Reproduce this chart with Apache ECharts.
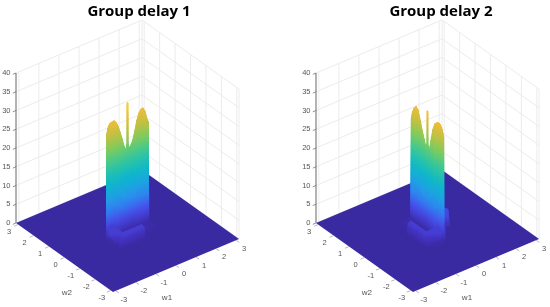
<!DOCTYPE html>
<html>
<head>
<meta charset="utf-8">
<style>html,body{margin:0;padding:0;background:#fff}#c{width:550px;height:307px;filter:blur(0.4px)}</style>
<script src="https://cdn.jsdelivr.net/npm/echarts@6/dist/echarts.min.js"></script>
</head>
<body>
<div id="c"></div>
<script>
// ---- ticks and labels ----
const titles = ['Group delay 1', 'Group delay 2'];
const wTicks = [-3, -2, -1, 0, 1, 2, 3];
const zTicks = [0, 5, 10, 15, 20, 25, 30, 35, 40];
const wLimit = 3.1416;

// ---- surface 1: rows run along w2, columns along w1 ----
const s1W1 = [-1.05,-1.03,-.97,-.92,-.87,-.77,-.67,-.58,-.47,-.38,-.27,-.18,-.1,-.02,-.01,.01,.02,.07,.18,.2,.27,.38,.47,.58,.67,.77,.87,.97,1.03,1.05];
const s1W2 = [-.86,-.84,-.69,-.65,-.04,0,.02,.14,.16];
const s1Flat   = [0,0,0,0,0,0,0,0,0,0,0,0,0,0,0,0,0,0,0,0,0,0,0,0,0,0,0,0,0,0];
const s1LedgeA = [0,0,0,3,3,3,3,3,3,3,3,3,3,3,3,3,3,3,3,0,0,0,0,0,0,0,0,0,0,0];
const s1LedgeB = [0,0,0,3.3,3.3,3.3,3.3,3.3,3.3,3.3,3.3,3.3,3.3,3.3,3.3,3.3,3.3,3.3,3.3,0,0,0,0,0,0,0,0,0,0,0];
const s1Trough = [0,0,0,3.3,3.3,3.3,.5,.5,.5,.5,.5,.5,.5,.5,.5,.5,.5,.5,.5,0,0,0,0,0,0,0,0,0,0,0];
const s1Foot   = [0,.8,.8,3.3,3.3,3.3,.8,.8,.8,.8,.8,.8,.8,.8,.8,.8,.8,.8,.8,.8,.8,.8,.8,.8,.8,.8,.8,.8,.8,0];
const s1Ridge  = [0,28.2,29.7,30.3,30.7,30.8,30.9,30.3,29,27.3,25.2,23.1,21.8,23.2,34.2,34.2,23.3,22,22.6,22.8,23.7,26.1,28.5,30.2,31,31.1,30,27.7,26.9,0];
const s1Behind = [0,0,0,3,3,3,0,0,0,0,0,0,0,0,0,0,0,0,0,0,0,0,0,0,0,0,0,0,0,0];
const s1Rows = [s1Flat, s1LedgeA, s1LedgeB, s1Trough, s1Foot, s1Ridge, s1Behind, s1Behind, s1Flat];

// ---- surface 2: rows run along w1, columns along w2 ----
const s2W2 = [-1.05,-1.04,-.94,-.88,-.81,-.73,-.66,-.48,-.36,-.23,-.12,-.02,-.01,.01,.02,.12,.23,.26,.36,.48,.62,.74,.87,.97,1.04,1.05];
const s2W1 = [-.77,-.75,-.63,-.6,-.04,0,.02,.18,.2,.92,.94];
const s2Flat   = [0,0,0,0,0,0,0,0,0,0,0,0,0,0,0,0,0,0,0,0,0,0,0,0,0,0];
const s2LedgeA = [0,0,0,3,3,3,3,3,3,3,3,3,3,3,3,3,3,3,0,0,0,0,0,0,0,0];
const s2LedgeB = [0,0,0,3.3,3.3,3.3,3.3,3.3,3.3,3.3,3.3,3.3,3.3,3.3,3.3,3.3,3.3,3.3,0,0,0,0,0,0,0,0];
const s2Trough = [0,0,0,3.3,3.3,3.3,.5,.5,.5,.5,.5,.5,.5,.5,.5,.5,.5,.5,0,0,0,0,0,0,0,0];
const s2Foot   = [0,.8,.8,3.3,3.3,3.3,.8,.8,.8,.8,.8,.8,.8,.8,.8,.8,.8,.8,.8,.8,.8,.8,.8,.8,.8,0];
const s2Ridge  = [0,28.4,29.9,30.4,30.9,30.9,30.9,30,28.2,24.9,21.9,23,32,32,23.2,22.3,23.9,24.5,25.9,28.2,30.5,31,30.2,28.9,27,0];
const s2Behind = [0,0,0,3,3,3,0,0,0,0,4,4,4,0,0,0,0,0,0,0,0,0,0,0,0,0];
const s2Slab   = [0,0,0,0,0,0,0,0,0,0,4,4,4,0,0,0,0,0,0,0,0,0,0,0,0,0];
const s2Rows = [s2Flat, s2LedgeA, s2LedgeB, s2Trough, s2Foot, s2Ridge, s2Behind, s2Behind, s2Slab, s2Slab, s2Flat];

// ---- colour map ----
const parula = ['#3a2aa2','#4433c4','#4650ee','#3378f2','#2796eb','#1aa6de','#08b5d0','#1abeb8','#31c69f','#55ca7f','#81cc59','#adc548','#d7bb3c','#eebd38','#fec338','#f7dc28','#f9fb15'];
const zColorMax = 38;

// ---- view geometry (projection plane) ----
const viewW1 = [126, 53], viewW2 = [-97, 69], viewZ = 3.75;
function project(w1, w2, z) {
  const a = (w1 + wLimit) / (2 * wLimit), b = (w2 + wLimit) / (2 * wLimit);
  return [a * viewW1[0] + b * viewW2[0], a * viewW1[1] + b * viewW2[1] + z * viewZ];
}
function hex(c) { return [1, 3, 5].map(i => parseInt(c.substr(i, 2), 16)); }
function colorAt(z) {
  const t = Math.max(0, Math.min(1, z / zColorMax)) * (parula.length - 1);
  const i = Math.min(parula.length - 2, Math.floor(t)), f = t - i;
  const p = hex(parula[i]), q = hex(parula[i + 1]);
  return 'rgb(' + p.map((v, k) => Math.round(v + (q[k] - v) * f)).join(',') + ')';
}

// one floor sheet out to the axis limits, then the raised cells back to front
function buildSurface(rowAxis, colAxis, rows, rowsAreW1) {
  const cells = [[[-wLimit, -wLimit, 0], [wLimit, -wLimit, 0], [wLimit, wLimit, 0], [-wLimit, wLimit, 0]]];
  for (let i = rowAxis.length - 2; i >= 0; i--) {
    for (let j = colAxis.length - 2; j >= 0; j--) {
      const corners = [[i, j], [i, j + 1], [i + 1, j + 1], [i + 1, j]].map(([r, c]) => {
        const z = rows[r][c];
        return rowsAreW1 ? [rowAxis[r], colAxis[c], z] : [colAxis[c], rowAxis[r], z];
      });
      if (corners.some(c => c[2] > 0)) cells.push(corners);
    }
  }
  return cells;
}

function surfaceSeries(gridIndex, cells) {
  return {
    type: 'custom', xAxisIndex: gridIndex, yAxisIndex: gridIndex, z: 3, silent: true,
    data: cells.map((c, i) => [i]),
    renderItem(params, api) {
      const corners = cells[params.dataIndex];
      const pts = corners.map(c => api.coord(project(c[0], c[1], c[2])));
      let lo = 0, hi = 0;
      corners.forEach((c, k) => { if (c[2] < corners[lo][2]) lo = k; if (c[2] > corners[hi][2]) hi = k; });
      const zLo = corners[lo][2], zHi = corners[hi][2];
      let fill;
      if (zHi - zLo < 0.01) {
        fill = colorAt(zLo);
      } else {
        const stops = [];
        for (let k = 0; k <= 8; k++) stops.push({ offset: k / 8, color: colorAt(zLo + (zHi - zLo) * k / 8) });
        const cx = (pts[lo][0] + pts[hi][0]) / 2;
        fill = { type: 'linear', global: true, x: cx, y: pts[lo][1], x2: cx, y2: pts[hi][1] + 0.001, colorStops: stops };
      }
      return { type: 'polygon', shape: { points: pts }, style: { fill: fill, stroke: params.dataIndex ? fill : 'none', lineWidth: 0.8, lineJoin: 'round' } };
    }
  };
}

function wallSegments() {
  const segs = [];
  const grid = '#ececec';
  wTicks.forEach(t => {
    segs.push([t, wLimit, 0, t, wLimit, 40, grid]);
    segs.push([wLimit, t, 0, wLimit, t, 40, grid]);
  });
  segs.push([wLimit, wLimit, 0, wLimit, wLimit, 40, grid]);
  segs.push([wLimit, -wLimit, 0, wLimit, -wLimit, 40, grid]);
  zTicks.forEach(z => {
    segs.push([-wLimit, wLimit, z, wLimit, wLimit, z, grid]);
    segs.push([wLimit, wLimit, z, wLimit, -wLimit, z, grid]);
  });
  return segs;
}
function lineSeries(gridIndex, segs, z) {
  return {
    type: 'custom', xAxisIndex: gridIndex, yAxisIndex: gridIndex, z: z, silent: true,
    data: segs.map((s, i) => [i]),
    renderItem(params, api) {
      const s = segs[params.dataIndex];
      const p = api.coord(project(s[0], s[1], s[2])), q = api.coord(project(s[3], s[4], s[5]));
      return { type: 'line', shape: { x1: p[0], y1: p[1], x2: q[0], y2: q[1] }, style: { stroke: s[6], lineWidth: s[7] || 1 } };
    }
  };
}
function axisSegments() {
  const dark = '#666666', segs = [];
  segs.push([-wLimit, wLimit, 0, -wLimit, wLimit, 40, dark, 1]);
  zTicks.forEach(z => segs.push([-wLimit, wLimit, z, -wLimit - 0.16, wLimit, z, dark, 0.7]));
  wTicks.forEach(t => {
    segs.push([t, -wLimit, 0, t, -wLimit - 0.2, 0, '#999999', 0.7]);
    segs.push([-wLimit, t, 0, -wLimit - 0.2, t, 0, '#999999', 0.7]);
  });
  return segs;
}
function textSeries(gridIndex) {
  const items = [];
  const font = 'Liberation Sans';
  wTicks.forEach(t => {
    items.push([String(t), t, -wLimit, 8, 8.8, 'center']);
    items.push([String(t), -wLimit, t, -9, 7.3, 'center']);
  });
  zTicks.forEach(z => items.push([String(z), -wLimit, wLimit, -5.5, 0, 'right', z]));
  items.push(['w1', -0.6, -wLimit, 3, 27, 'center', 0, 8]);
  items.push(['w2', -wLimit, -0.6, -7, 29, 'center', 0, 8]);
  return {
    type: 'custom', xAxisIndex: gridIndex, yAxisIndex: gridIndex, z: 5, silent: true,
    data: items.map((s, i) => [i]),
    renderItem(params, api) {
      const s = items[params.dataIndex];
      const p = api.coord(project(s[1], s[2], s[6] || 0));
      return { type: 'text', style: { text: s[0], x: p[0] + s[3], y: p[1] + s[4], align: s[5], verticalAlign: 'middle',
        fill: '#555555', font: (s[7] || 7.5) + 'px "' + font + '"' } };
    }
  };
}

const chart = echarts.init(document.getElementById('c'), null, { renderer: 'canvas' });
const surf1 = buildSurface(s1W2, s1W1, s1Rows, false);
const surf2 = buildSurface(s2W1, s2W2, s2Rows, true);
const walls = wallSegments(), axesSegs = axisSegments();
chart.setOption({
  animation: false,
  backgroundColor: '#ffffff',
  title: [
    { text: titles[0], left: 134, top: -1, textAlign: 'center', textStyle: { fontFamily: 'Open Sans', fontWeight: 'bold', fontSize: 15, color: '#000' } },
    { text: titles[1], left: 436, top: -1, textAlign: 'center', textStyle: { fontFamily: 'Open Sans', fontWeight: 'bold', fontSize: 15, color: '#000' } }
  ],
  grid: [
    { left: 0, top: 0, width: 275, height: 307 },
    { left: 300, top: 0, width: 250, height: 307 }
  ],
  xAxis: [
    { type: 'value', gridIndex: 0, min: -113, max: 162, show: false },
    { type: 'value', gridIndex: 1, min: -113, max: 137, show: false }
  ],
  yAxis: [
    { type: 'value', gridIndex: 0, min: -15, max: 292, show: false },
    { type: 'value', gridIndex: 1, min: -15, max: 292, show: false }
  ],
  series: [
    lineSeries(0, walls, 1), lineSeries(1, walls, 1),
    surfaceSeries(0, surf1), surfaceSeries(1, surf2),
    lineSeries(0, axesSegs, 4), lineSeries(1, axesSegs, 4),
    textSeries(0), textSeries(1)
  ]
});
</script>
</body>
</html>
